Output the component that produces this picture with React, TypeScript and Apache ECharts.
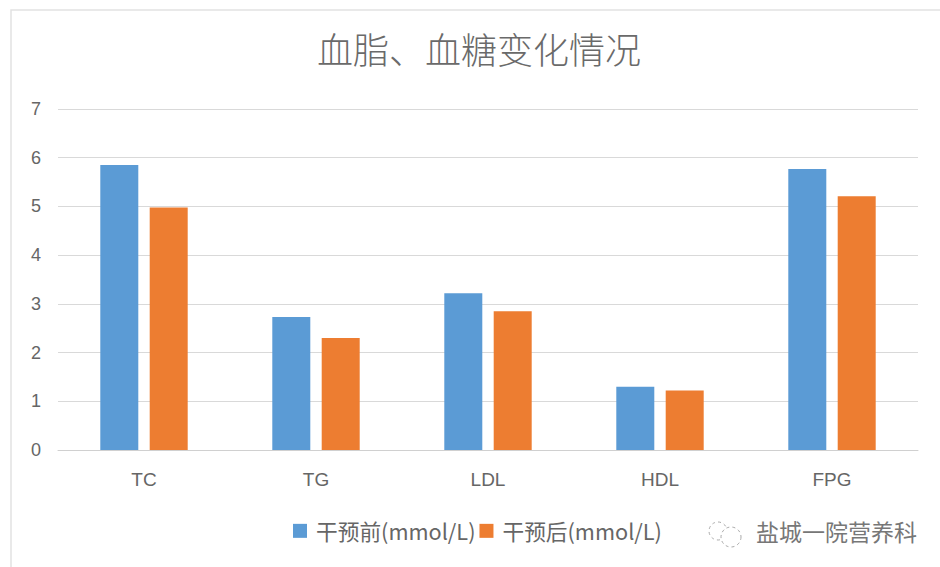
import React, { useEffect, useRef } from "react";
import * as echarts from "echarts";

const categories = ["TC", "TG", "LDL", "HDL", "FPG"];
const beforeValues = [5.85, 2.73, 3.22, 1.3, 5.77];
const afterValues = [4.98, 2.3, 2.85, 1.22, 5.21];
const beforeName = "干预前(mmol/L)";
const afterName = "干预后(mmol/L)";
const titleText = "血脂、血糖变化情况";
const accountName = "盐城一院营养科";

const cjk = '"Noto Sans CJK SC", "Noto Sans", sans-serif';

export default function App() {
  const ref = useRef<HTMLDivElement>(null);

  useEffect(() => {
    const chart = echarts.init(ref.current!, undefined, { renderer: "svg" });
    chart.setOption({
      animation: false,
      backgroundColor: "#fff",
      title: {
        text: titleText,
        left: 474,
        top: 25,
        textAlign: "center",
        textStyle: { fontFamily: cjk, fontSize: 36, fontWeight: 300, color: "#6a6a6a" },
      },
      grid: { left: 58, right: 22, top: 109, bottom: 117 },
      xAxis: {
        type: "category",
        data: categories,
        axisLine: { lineStyle: { color: "#d0d0d0", width: 1 } },
        axisTick: { show: false },
        axisLabel: { color: "#666", fontSize: 19, margin: 20, fontFamily: '"Liberation Sans", sans-serif' },
      },
      yAxis: {
        type: "value",
        min: 0,
        max: 7,
        interval: 1,
        axisLine: { show: false },
        axisTick: { show: false },
        axisLabel: {
          color: "#666",
          fontSize: 18,
          margin: 17,
          padding: [0, 0, 3, 0],
          fontFamily: '"Liberation Sans", sans-serif',
        },
        splitLine: { lineStyle: { color: "#d9d9d9", width: 1 } },
      },
      legend: {
        left: 288,
        top: 515,
        itemWidth: 14,
        itemHeight: 14,
        itemGap: 4,
        icon: "rect",
        textStyle: {
          color: "#666",
          fontSize: 21.7,
          fontFamily: cjk,
          padding: [0, 0, 0, 4],
        },
        data: [beforeName, afterName],
      },
      series: [
        {
          name: beforeName,
          type: "bar",
          data: beforeValues,
          barWidth: 38,
          barGap: "30%",
          itemStyle: { color: "#5b9bd5" },
        },
        {
          name: afterName,
          type: "bar",
          data: afterValues,
          barWidth: 38,
          itemStyle: { color: "#ed7d31" },
        },
      ],
      graphic: [
        // Outer frame of the chart, open on the right-hand side
        {
          type: "polyline",
          shape: { points: [[11, 567], [11, 10], [940, 10]] },
          style: { stroke: "#e2e2e2", lineWidth: 1.5, fill: "none" },
          silent: true,
        },
        // Account badge: two overlapping speech-bubble outlines
        {
          type: "circle",
          shape: { cx: 718, cy: 531, r: 9 },
          style: { stroke: "#aaa", lineWidth: 1, lineDash: [3, 3], fill: "none" },
          silent: true,
        },
        {
          type: "circle",
          shape: { cx: 731, cy: 537, r: 10 },
          style: { stroke: "#aaa", lineWidth: 1, lineDash: [3, 3], fill: "#fff" },
          silent: true,
        },
        {
          type: "text",
          x: 756,
          y: 531,
          style: {
            text: accountName,
            fontFamily: cjk,
            fontSize: 23,
            fill: "#777",
            textVerticalAlign: "middle",
          },
          silent: true,
        },
      ],
    });
    return () => chart.dispose();
  }, []);

  return (
    <div
      ref={ref}
      style={{ position: "absolute", left: 0, top: 0, width: 940, height: 567 }}
    />
  );
}
